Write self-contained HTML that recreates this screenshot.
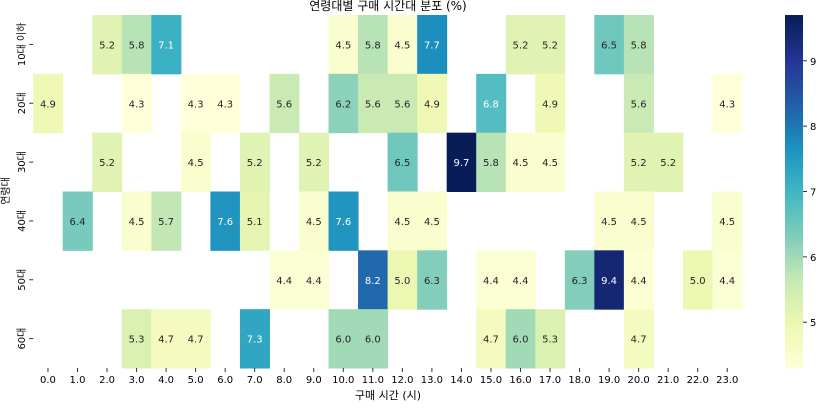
<!DOCTYPE html>
<html><head><meta charset="utf-8"><style>
body{margin:0;background:#fff;font-family:"Liberation Sans","Noto Sans CJK KR",sans-serif;}
svg text{font-family:"DejaVu Sans","Noto Sans CJK KR",sans-serif;}
</style></head><body>
<svg id="chart" width="831" height="404" xmlns="http://www.w3.org/2000/svg">
<text x="388" y="10" font-size="12" text-anchor="middle">연령대별 구매 시간대 분포 (%)</text>
<g id="cells"></g><g id="xt"></g><g id="yt"></g><g id="cb"></g>
<text x="388" y="399" font-size="11" text-anchor="middle">구매 시간 (시)</text>
<text transform="translate(9,191) rotate(-90)" font-size="10" text-anchor="middle">연령대</text>
</svg>
<script>
const hours=[0,1,2,3,4,5,6,7,8,9,10,11,12,13,14,15,16,17,18,19,20,21,22,23];
const ages=["10대 이하","20대","30대","40대","50대","60대"];
const N=null;
const row10=[N,N,5.2,5.8,7.1,N,N,N,N,N,4.5,5.8,4.5,7.7,N,N,5.2,5.2,N,6.5,5.8,N,N,N];
const row20=[4.9,N,N,4.3,N,4.3,4.3,N,5.6,N,6.2,5.6,5.6,4.9,N,6.8,N,4.9,N,N,5.6,N,N,4.3];
const row30=[N,N,5.2,N,N,4.5,N,5.2,N,5.2,N,N,6.5,N,9.7,5.8,4.5,4.5,N,N,5.2,5.2,N,N];
const row40=[N,6.4,N,4.5,5.7,N,7.6,5.1,N,4.5,7.6,N,4.5,4.5,N,N,N,N,N,4.5,4.5,N,N,4.5];
const row50=[N,N,N,N,N,N,N,N,4.4,4.4,N,8.2,5.0,6.3,N,4.4,4.4,N,6.3,9.4,4.4,N,5.0,4.4];
const row60=[N,N,N,5.3,4.7,4.7,N,7.3,N,N,6.0,6.0,N,N,N,4.7,6.0,5.3,N,N,4.7,N,N,N];
const rows=[row10,row20,row30,row40,row50,row60];
const cbTicks=[5,6,7,8,9];
const vmin=4.3,vmax=9.7;
const L=33.2,R=742,T=15,B=368;
const cw=(R-L)/hours.length,rh=(B-T)/ages.length;
const xs=i=>L+i*cw, ys=j=>T+j*rh;
const stops=[[255,255,217],[237,248,177],[199,233,180],[127,205,187],[65,182,196],[29,145,192],[34,94,168],[37,52,148],[8,29,88]];
function col(v){let t=Math.max(0,Math.min(1,(v-vmin)/(vmax-vmin)))*(stops.length-1);let i=Math.min(Math.floor(t),stops.length-2),f=t-i;
const c=stops[i].map((a,k)=>Math.round(a+(stops[i+1][k]-a)*f));return `rgb(${c})`;}
const NS="http://www.w3.org/2000/svg";
function mk(p,tag,a){const e=document.createElementNS(NS,tag);for(const k in a)e.setAttribute(k,a[k]);p.appendChild(e);return e;}
const cells=document.getElementById('cells');
rows.forEach((r,j)=>r.forEach((v,i)=>{if(v===null)return;
const rc=mk(cells,'rect',{x:xs(i),y:ys(j),width:cw+0.5,height:rh+0.5,fill:col(v)});


const t=mk(cells,'text',{x:xs(i)+cw/2,y:ys(j)+rh/2+4,'font-size':10,'text-anchor':'middle',fill:v>=6.7?'#fff':'#262626'});


t.textContent=v.toFixed(1);}));
const xt=document.getElementById('xt');
hours.forEach((h,i)=>{const x=xs(i)+cw/2;mk(xt,'line',{x1:x,x2:x,y1:B,y2:B+4,stroke:'#333'});
const t=mk(xt,'text',{x:x,y:B+15,'font-size':10,'text-anchor':'middle'});


t.textContent=h.toFixed(1);});
const yt=document.getElementById('yt');
ages.forEach((a,j)=>{const y=ys(j)+rh/2;mk(yt,'line',{x1:L-4,x2:L,y1:y,y2:y,stroke:'#333'});
const t=mk(yt,'text',{transform:`translate(${L-8},${y}) rotate(-90)`,'font-size':10,'text-anchor':'middle'});


t.textContent=a;});
const cb=document.getElementById('cb');const cx=785,cwid=18,n=100;
for(let k=0;k<n;k++){const v=vmin+(vmax-vmin)*(k/n);const h=(B-T)/n;
const r=mk(cb,'rect',{x:cx,y:B-(k+1)*h,width:cwid,height:h+0.6,fill:col(v+(vmax-vmin)/(2*n))});

}
const cy=v=>B-(v-vmin)/(vmax-vmin)*(B-T);
cbTicks.forEach(v=>{mk(cb,'line',{x1:cx+cwid,x2:cx+cwid+4,y1:cy(v),y2:cy(v),stroke:'#333'});
const t=mk(cb,'text',{x:cx+cwid+7,y:cy(v)+4,'font-size':10});


t.textContent=v;});
</script>
</body></html>
